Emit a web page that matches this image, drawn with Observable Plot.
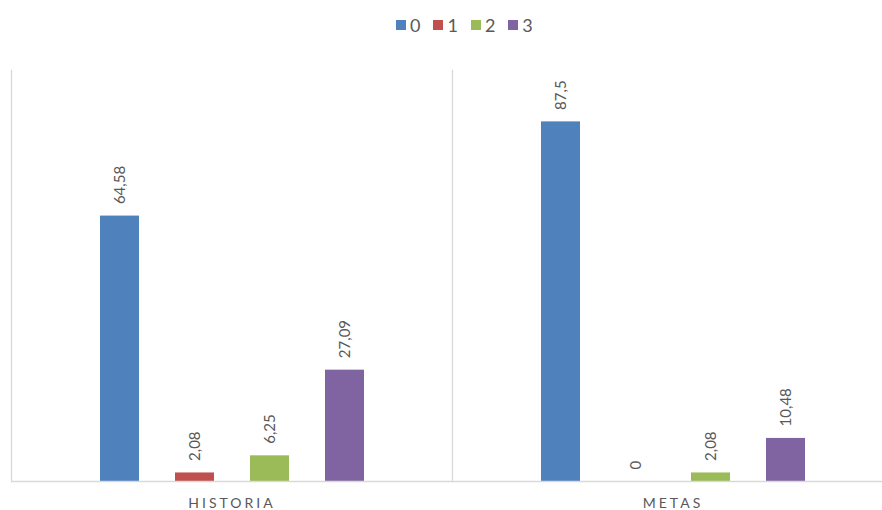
<!DOCTYPE html>
<html>
<head>
<meta charset="utf-8">
<script src="https://cdn.jsdelivr.net/npm/d3@7"></script>
<script src="https://cdn.jsdelivr.net/npm/@observablehq/plot@0.6"></script>
<style>
  html, body { margin: 0; padding: 0; background: #fff; overflow: hidden; }
  body { font-family: Lato, "Open Sans", sans-serif; width: 893px; }
  #legend { height: 48px; box-sizing: border-box; padding-top: 2px; padding-left: 396px;
            display: flex; align-items: center; color: #595959; font-size: 18px; }
  .item { display: flex; align-items: center; margin-right: 13px; }
  .sw { width: 10px; height: 10px; margin-right: 4px; }
  .fxaxis text { letter-spacing: 3px; }
  #chart svg { max-width: none !important; display: block; }
</style>
</head>
<body>
<div id="legend"></div>
<div id="chart"></div>
<script>
const groups = ["HISTORIA", "METAS"];
const series = ["0", "1", "2", "3"];
const historia = [64.58, 2.08, 6.25, 27.09];
const metas = [87.5, 0, 2.08, 10.48];
const colors = ["#4F81BD", "#C0504D", "#9BBB59", "#8064A2"];

const data = [];
series.forEach((s, i) => data.push({group: groups[0], series: s, value: historia[i]}));
series.forEach((s, i) => data.push({group: groups[1], series: s, value: metas[i]}));

const legend = document.getElementById("legend");
series.forEach((s, i) => {
  const it = document.createElement("div");
  it.className = "item";
  it.innerHTML = `<div class="sw" style="background:${colors[i]}"></div><span>${s}</span>`;
  legend.appendChild(it);
});

const fmt = v => String(v).replace(".", ",");

const chart = Plot.plot({
  width: 893,
  height: 462,
  marginLeft: 11,
  marginRight: 0,
  marginTop: 22,
  marginBottom: 29,
  style: {fontFamily: "Lato, 'Open Sans', sans-serif", background: "#fff", maxWidth: "none", overflow: "visible"},
  fx: {domain: groups, paddingInner: 0, paddingOuter: 0, label: null},
  x: {domain: series, paddingInner: 0.48, paddingOuter: 1.18, align: 0.5, axis: null},
  y: {domain: [0, 100], axis: null},
  color: {domain: series, range: colors},
  marks: [
    Plot.frame({anchor: "left", stroke: "#d9d9d9", strokeWidth: 1.3}),
    Plot.barY(data, {fx: "group", x: "series", y: "value", fill: "series"}),
    Plot.ruleY([0], {stroke: "#d9d9d9", strokeWidth: 1.5}),
    Plot.text(data, {fx: "group", x: "series", y: "value", text: d => fmt(d.value),
      rotate: -90, textAnchor: "start", dy: -12, fontSize: 15, fill: "#595959"}),
    Plot.axisFx({anchor: "bottom", tickSize: 0, tickPadding: 17, fontSize: 14,
      fill: "#595959", label: null, className: "fxaxis"})
  ]
});
document.getElementById("chart").appendChild(chart);
</script>
</body>
</html>
